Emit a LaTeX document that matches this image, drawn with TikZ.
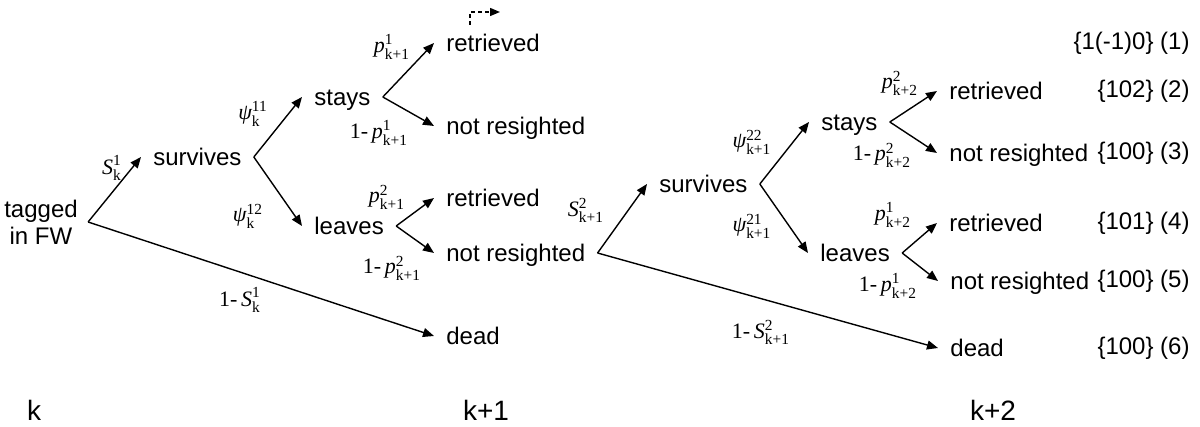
\documentclass[tikz,border=0pt]{standalone}
\usepackage{amsmath}
\usepackage{fontspec}
\setmainfont{Liberation Sans}
\newfontfamily\tms{Liberation Serif}
\usetikzlibrary{arrows.meta}

% transition probabilities, Times style
\newcommand{\pr}[3]{$\text{\tms\itshape #1}^{\text{\tms #2}}_{\text{\tms #3}}$}
\newcommand{\qr}[3]{{\tms 1-\,}\pr{#1}{#2}{#3}}

\begin{document}
\begin{tikzpicture}[x=0.5pt,y=-0.5pt,
	st/.style={anchor=west,inner xsep=6pt,inner ysep=0pt,text height=8.6pt,text depth=0pt,font=\fontsize{12}{14}\selectfont},
	lbl/.style={inner sep=0pt,font=\fontsize{11}{13}\selectfont},
	code/.style={anchor=east,inner sep=0pt,font=\fontsize{12}{14}\selectfont},
	occ/.style={font=\fontsize{14}{16}\selectfont},
	arr/.style={line width=0.7pt,-{Triangle[length=5.5pt,width=4.5pt]}}]
	\useasboundingbox (0,0) rectangle (1200,427);

	% occasion k
	\node[align=center,inner sep=0pt,font=\fontsize{12}{13.5}\selectfont] (tag) at (41,222) {tagged\\in FW};
	\node[st] (surv1) at (141,157) {survives};
	\node[st] (stays1) at (302,97) {stays};
	\node[st] (leaves1) at (302,226) {leaves};
	\node[st] (ret1) at (434,43) {retrieved};
	\node[st] (nr1) at (434,126) {not resighted};
	\node[st] (ret2) at (434,198) {retrieved};
	\node[st] (nr2) at (434,253) {not resighted};
	\node[st] (dead1) at (434,336) {dead};

	% occasion k+1
	\node[st] (surv2) at (647,184) {survives};
	\node[st] (stays2) at (809,122) {stays};
	\node[st] (leaves2) at (808,253) {leaves};
	\node[st] (ret3) at (937,91) {retrieved};
	\node[st] (nr3) at (937,153) {not resighted};
	\node[st] (ret4) at (937,223) {retrieved};
	\node[st] (nr4) at (938,281) {not resighted};
	\node[st] (dead2) at (938,348) {dead};

	% capture histories
	\node[code] (h1) at (1190,43) {\{1(-1)0\} (1)};
	\node[code] (h2) at (1190,91) {\{102\} (2)};
	\node[code] (h3) at (1190,153) {\{100\} (3)};
	\node[code] (h4) at (1190,223) {\{101\} (4)};
	\node[code] (h5) at (1190,281) {\{100\} (5)};
	\node[code] (h6) at (1190,348) {\{100\} (6)};

	\draw[arr] ([xshift=5pt]tag.east) -- (surv1.west);
	\draw[arr] ([xshift=5pt]tag.east) -- (dead1.west);
	\draw[arr] (surv1.east) -- (stays1.west);
	\draw[arr] (surv1.east) -- (leaves1.west);
	\draw[arr] (stays1.east) -- (ret1.west);
	\draw[arr] (stays1.east) -- (nr1.west);
	\draw[arr] (leaves1.east) -- (ret2.west);
	\draw[arr] (leaves1.east) -- (nr2.west);
	\draw[arr] (nr2.east) -- (surv2.west);
	\draw[arr] (nr2.east) -- (dead2.west);
	\draw[arr] (surv2.east) -- (stays2.west);
	\draw[arr] (surv2.east) -- (leaves2.west);
	\draw[arr] (stays2.east) -- (ret3.west);
	\draw[arr] (stays2.east) -- (nr3.west);
	\draw[arr] (leaves2.east) -- (ret4.west);
	\draw[arr] (leaves2.east) -- (nr4.west);

	\coordinate (back) at (470,25);
	\draw[line width=0.7pt,dash pattern=on 2pt off 1.5pt,-{Triangle[length=5pt,width=4pt]}] (back) |- (500,12);

	\node[lbl] (s1) at (112,168) {\pr{S}{1}{k}};
	\node[lbl] (ms1) at (240,300) {\qr{S}{1}{k}};
	\node[lbl] (w11) at (253,114) {\pr{ψ}{11}{k}};
	\node[lbl] (w12) at (248,216) {\pr{ψ}{12}{k}};
	\node[lbl] (p11) at (392,47) {\pr{p}{1}{k+1}};
	\node[lbl] (mp11) at (379,133) {\qr{p}{1}{k+1}};
	\node[lbl] (p21) at (387,197) {\pr{p}{2}{k+1}};
	\node[lbl] (mp21) at (392,268) {\qr{p}{2}{k+1}};
	\node[lbl] (s2) at (586,210) {\pr{S}{2}{k+1}};
	\node[lbl] (ms2) at (761,332) {\qr{S}{2}{k+1}};
	\node[lbl] (w22) at (752,142) {\pr{ψ}{22}{k+1}};
	\node[lbl] (w21) at (752,226) {\pr{ψ}{21}{k+1}};
	\node[lbl] (p22) at (900,83) {\pr{p}{2}{k+2}};
	\node[lbl] (mp22) at (882,155) {\qr{p}{2}{k+2}};
	\node[lbl] (p12) at (893,215) {\pr{p}{1}{k+2}};
	\node[lbl] (mp12) at (888,286) {\qr{p}{1}{k+2}};

	\node[occ] (k0) at (34,410) {k};
	\node[occ] (k1) at (486,410) {k+1};
	\node[occ] (k2) at (993,410) {k+2};
\end{tikzpicture}
\end{document}
